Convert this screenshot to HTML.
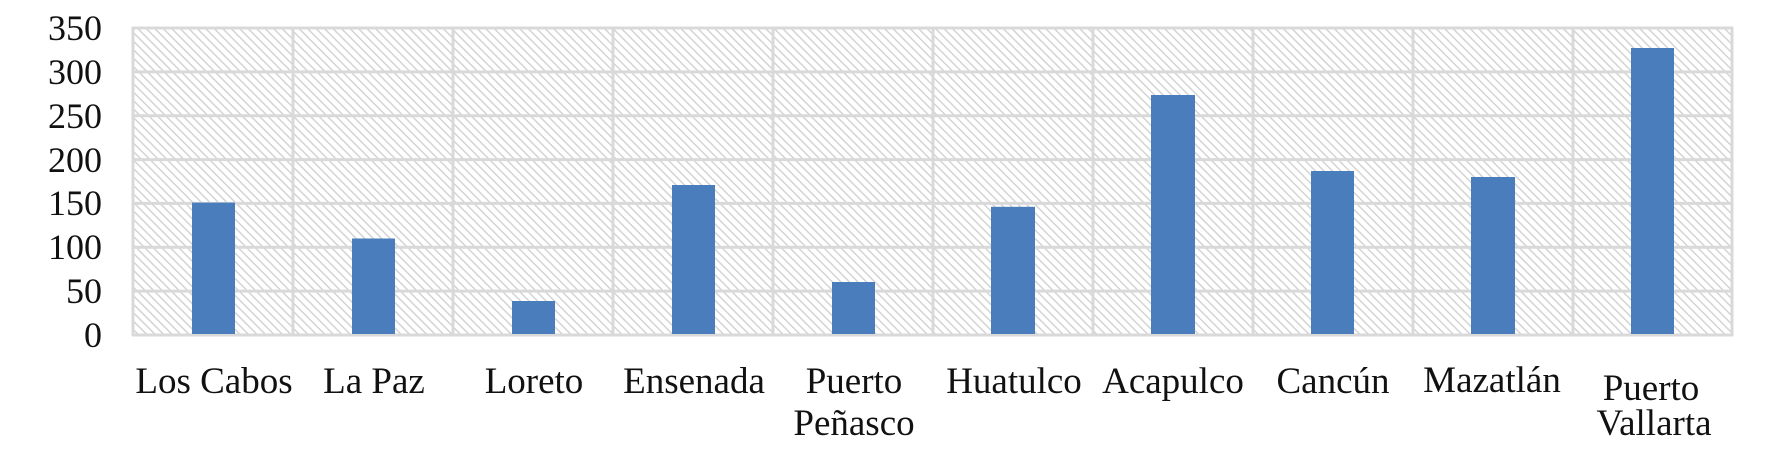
<!DOCTYPE html>
<html>
<head>
<meta charset="utf-8">
<style>
  html, body { margin: 0; padding: 0; background: #ffffff; }
  body { width: 1792px; height: 476px; overflow: hidden; }
  svg { display: block; }
  text { font-family: "Liberation Serif", "Times New Roman", serif; fill: #111; }
</style>
</head>
<body>
<svg width="1792" height="476" viewBox="0 0 1792 476" xmlns="http://www.w3.org/2000/svg">
  <defs>
    <pattern id="hatch" patternUnits="userSpaceOnUse" width="6" height="6" patternTransform="rotate(45)">
      <rect width="6" height="6" fill="#ffffff"/>
      <rect x="0" y="0" width="6" height="1.5" fill="#d4d4d4"/>
    </pattern>
  </defs>
  <rect width="1792" height="476" fill="#ffffff"/>
  <!-- plot area -->
  <rect x="133" y="28" width="1599" height="307" fill="url(#hatch)"/>
  <!-- horizontal gridlines -->
  <g stroke="#d9d9d9" stroke-width="3">
    <line x1="132" y1="28" x2="1733" y2="28"/>
    <line x1="132" y1="71.9" x2="1733" y2="71.9"/>
    <line x1="132" y1="115.7" x2="1733" y2="115.7"/>
    <line x1="132" y1="159.6" x2="1733" y2="159.6"/>
    <line x1="132" y1="203.4" x2="1733" y2="203.4"/>
    <line x1="132" y1="247.3" x2="1733" y2="247.3"/>
    <line x1="132" y1="291.1" x2="1733" y2="291.1"/>
    <line x1="132" y1="335" x2="1733" y2="335"/>
    <!-- vertical gridlines -->
    <line x1="133" y1="27" x2="133" y2="336"/>
    <line x1="293" y1="27" x2="293" y2="336"/>
    <line x1="453" y1="27" x2="453" y2="336"/>
    <line x1="613" y1="27" x2="613" y2="336"/>
    <line x1="773" y1="27" x2="773" y2="336"/>
    <line x1="933" y1="27" x2="933" y2="336"/>
    <line x1="1093" y1="27" x2="1093" y2="336"/>
    <line x1="1253" y1="27" x2="1253" y2="336"/>
    <line x1="1413" y1="27" x2="1413" y2="336"/>
    <line x1="1573" y1="27" x2="1573" y2="336"/>
    <line x1="1732" y1="27" x2="1732" y2="336"/>
  </g>
  <!-- bars -->
  <g fill="#4a7dbb">
    <rect x="192" y="202.6" width="43" height="131.4"/>
    <rect x="352" y="238.5" width="43" height="95.5"/>
    <rect x="512" y="301" width="43" height="33"/>
    <rect x="672" y="185" width="43" height="149"/>
    <rect x="832" y="282" width="43" height="52"/>
    <rect x="991" y="206.8" width="44" height="127.2"/>
    <rect x="1151" y="95" width="44" height="239"/>
    <rect x="1311" y="171" width="43" height="163"/>
    <rect x="1471" y="177" width="44" height="157"/>
    <rect x="1631" y="48" width="43" height="286"/>
  </g>
  <!-- y tick labels -->
  <g font-size="36" text-anchor="end">
    <text x="102" y="40">350</text>
    <text x="102" y="84">300</text>
    <text x="102" y="128">250</text>
    <text x="102" y="172">200</text>
    <text x="102" y="215">150</text>
    <text x="102" y="259">100</text>
    <text x="102" y="303">50</text>
    <text x="102" y="347">0</text>
  </g>
  <!-- category labels -->
  <g font-size="37" text-anchor="middle">
    <text x="214" y="393">Los Cabos</text>
    <text x="374" y="393">La Paz</text>
    <text x="534" y="393">Loreto</text>
    <text x="694" y="393">Ensenada</text>
    <text x="854" y="393">Puerto</text>
    <text x="854" y="435">Peñasco</text>
    <text x="1014" y="393">Huatulco</text>
    <text x="1173" y="393">Acapulco</text>
    <text x="1333" y="393">Cancún</text>
    <text x="1492" y="392">Mazatlán</text>
    <text x="1651" y="400">Puerto</text>
    <text x="1654" y="435">Vallarta</text>
  </g>
</svg>
</body>
</html>
